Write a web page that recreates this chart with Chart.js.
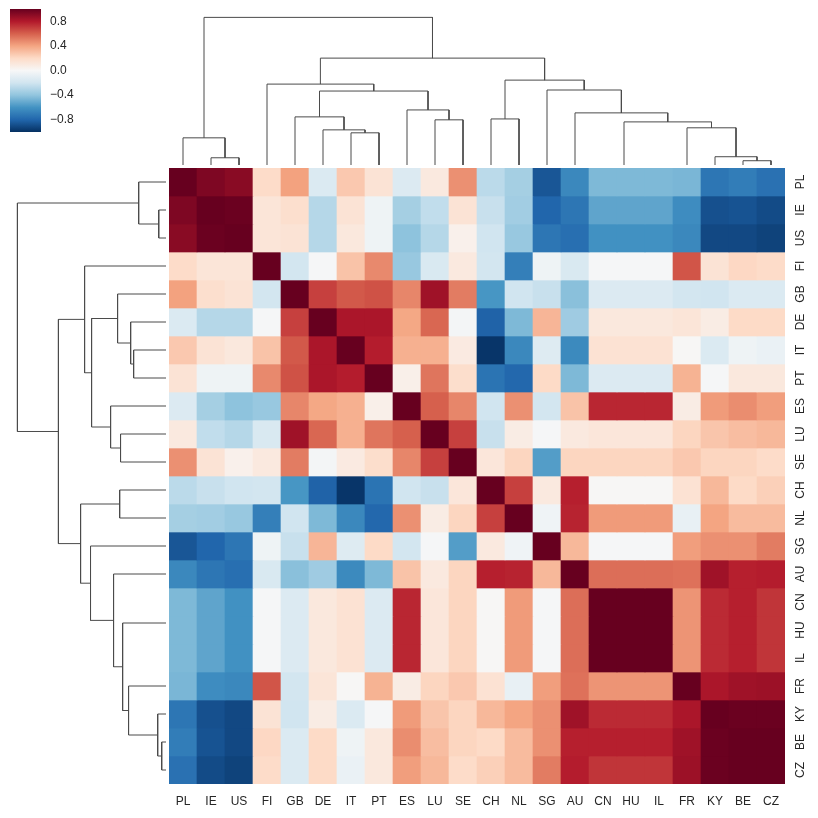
<!DOCTYPE html>
<html>
<head>
<meta charset="utf-8">
<script src="https://cdn.jsdelivr.net/npm/chart.js@4/dist/chart.umd.min.js"></script>
<style>
  html, body { margin: 0; padding: 0; background: #fff; }
  #wrap { position: relative; width: 818px; height: 818px; }
  canvas { position: absolute; }
</style>
</head>
<body>
<div id="wrap">
  <canvas id="cbar" width="70" height="123" style="left:10px;top:9px"></canvas>
  <canvas id="topTree" width="616" height="155" style="left:169px;top:10px"></canvas>
  <canvas id="leftTree" width="156" height="616" style="left:10px;top:168px"></canvas>
  <canvas id="heat" width="649" height="650" style="left:169px;top:168px"></canvas>
</div>
<script>
// leaf order after clustering (rows and columns share it)
const countries = ['PL', 'IE', 'US', 'FI', 'GB', 'DE', 'IT', 'PT', 'ES', 'LU', 'SE', 'CH', 'NL', 'SG', 'AU', 'CN', 'HU', 'IL', 'FR', 'KY', 'BE', 'CZ'];

// correlation matrix, one row per country (same order as above)
const corr = [
  [1, .94, .91, .19, .41, -.15, .27, .14, -.14, .1, .46, -.27, -.34, -.86, -.65, -.45, -.45, -.45, -.46, -.73, -.7, -.75],
  [.94, 1, .99, .13, .17, -.29, .14, -.05, -.34, -.25, .14, -.23, -.35, -.8, -.73, -.53, -.53, -.53, -.63, -.88, -.87, -.9],
  [.91, .99, 1, .13, .14, -.29, .11, -.05, -.41, -.29, .05, -.2, -.38, -.73, -.76, -.61, -.61, -.61, -.65, -.91, -.91, -.93],
  [.19, .13, .13, 1, -.19, -.01, .29, .48, -.38, -.16, .1, -.19, -.69, -.05, -.16, -.01, -.01, -.01, .63, .14, .21, .19],
  [.41, .17, .14, -.19, 1, .69, .62, .64, .49, .85, .52, -.59, -.2, -.23, -.42, -.14, -.14, -.14, -.19, -.2, -.15, -.15],
  [-.15, -.29, -.29, -.01, .69, 1, .82, .82, .39, .58, -.02, -.81, -.45, .34, -.36, .11, .11, .11, .13, .08, .2, .2],
  [.27, .14, .11, .29, .62, .82, 1, .79, .36, .36, .09, -.98, -.65, -.13, -.64, .15, .15, .15, .01, -.15, -.05, -.07],
  [.14, -.05, -.05, .48, .64, .82, .79, 1, .06, .54, .18, -.74, -.79, .2, -.45, -.14, -.14, -.14, .35, -.01, .11, .11],
  [-.14, -.34, -.41, -.38, .49, .39, .36, .06, 1, .6, .49, -.2, .46, -.19, .29, .76, .76, .76, .08, .43, .47, .42],
  [.1, -.25, -.29, -.16, .85, .58, .36, .54, .6, 1, .69, -.23, .08, -.01, .1, .12, .12, .12, .22, .28, .31, .33],
  [.46, .14, .05, .1, .52, -.02, .09, .18, .49, .69, 1, .12, .22, -.56, .22, .22, .22, .22, .27, .22, .22, .19],
  [-.27, -.23, -.2, -.19, -.59, -.81, -.98, -.74, -.2, -.23, .12, 1, .69, .1, .78, .01, .01, .01, .15, .33, .2, .24],
  [-.34, -.35, -.38, -.69, -.2, -.45, -.65, -.79, .46, .08, .22, .69, 1, -.04, .77, .43, .43, .43, -.08, .4, .32, .32],
  [-.86, -.8, -.73, -.05, -.23, .34, -.13, .2, -.19, -.01, -.56, .1, -.04, 1, .33, -.01, -.01, -.01, .42, .46, .46, .52],
  [-.65, -.73, -.76, -.16, -.42, -.36, -.64, -.45, .29, .1, .22, .78, .77, .33, 1, .56, .56, .56, .55, .85, .78, .79],
  [-.45, -.53, -.61, -.01, -.14, .11, .15, -.14, .76, .12, .22, .01, .43, -.01, .56, 1, 1, 1, .45, .75, .78, .72],
  [-.45, -.53, -.61, -.01, -.14, .11, .15, -.14, .76, .12, .22, .01, .43, -.01, .56, 1, 1, 1, .45, .75, .78, .72],
  [-.45, -.53, -.61, -.01, -.14, .11, .15, -.14, .76, .12, .22, .01, .43, -.01, .56, 1, 1, 1, .45, .75, .78, .72],
  [-.46, -.63, -.65, .63, -.19, .13, .01, .35, .08, .22, .27, .15, -.08, .42, .55, .45, .45, .45, 1, .82, .85, .86],
  [-.73, -.88, -.91, .14, -.2, .08, -.15, -.01, .43, .28, .22, .33, .4, .46, .85, .75, .75, .75, .82, 1, .99, .99],
  [-.7, -.87, -.91, .21, -.15, .2, -.05, .11, .47, .31, .22, .2, .32, .46, .78, .78, .78, .78, .85, .99, 1, 1],
  [-.75, -.9, -.93, .19, -.15, .2, -.07, .11, .42, .33, .19, .24, .32, .52, .79, .72, .72, .72, .86, .99, 1, 1]
];

// linkage: [left, right, height]; ids 0-21 are leaves, 22+ are merged clusters in order
const merges = [
  [16, 17, 0], [15, 22, 0], [20, 21, .029], [1, 2, .049], [19, 24, .056],
  [0, 25, .184], [6, 7, .218], [5, 28, .238], [18, 26, .252], [23, 30, .292],
  [9, 10, .306], [11, 12, .312], [4, 29, .326], [14, 31, .353], [8, 32, .373],
  [34, 36, .501], [13, 35, .508], [3, 37, .548], [33, 38, .575], [39, 40, .724],
  [27, 41, 1.0]
];

const cbarTicks = [-0.8, -0.4, 0, 0.4, 0.8];
const rdbu = ['#053061', '#2166ac', '#4393c3', '#92c5de', '#d1e5f0', '#f7f7f7', '#fddbc7', '#f4a582', '#d6604d', '#b2182b', '#67001f'];

const $ = id => document.getElementById(id);
const font = { family: "'Liberation Sans', Arial, sans-serif", size: 12 };
const textColor = '#262626';
const lineColor = '#4b4b4b';
const noGrid = { display: false, drawTicks: false };
const hex = h => [1, 3, 5].map(i => parseInt(h.substr(i, 2), 16));

function cmap(v) {
  const t = (Math.max(-1, Math.min(1, v)) + 1) / 2 * 10;
  const i = Math.min(9, Math.floor(t)), f = t - i;
  const a = hex(rdbu[i]), b = hex(rdbu[i + 1]);
  return `rgb(${a.map((c, k) => Math.round(c + (b[k] - c) * f)).join(',')})`;
}

// U-shaped links of the dendrogram, in leaf-slot units (leaf i centred at i + 0.5)
function treeLinks() {
  const pos = countries.map((_, i) => i + 0.5), ht = countries.map(() => 0);
  const links = [];
  merges.forEach(([a, b, h]) => {
    if (h > 0) links.push([[pos[a], ht[a]], [pos[a], h], [pos[b], h], [pos[b], ht[b]]]);
    pos.push((pos[a] + pos[b]) / 2);
    ht.push(h);
  });
  return links;
}
const hMax = Math.max(...merges.map(m => m[2])) * 1.05;
const base = { responsive: false, animation: false, events: [], plugins: { legend: { display: false }, tooltip: { enabled: false } } };

// heatmap: one floating bar per cell, one dataset per row
new Chart($('heat'), {
  type: 'bar',
  data: {
    labels: countries,
    datasets: corr.map((row, i) => ({
      data: row.map(() => [i, i + 1]),
      backgroundColor: row.map(cmap),
      grouped: false, barPercentage: 1, categoryPercentage: 1, borderWidth: 0
    }))
  },
  options: {
    ...base,
    scales: {
      x: {
        grid: noGrid, border: { display: false },
        ticks: { font, color: textColor, padding: 10, autoSkip: false, maxRotation: 0 },
        afterFit: s => { s.height = 34; s.paddingLeft = s.paddingRight = 0; }
      },
      y: {
        position: 'right', min: 0, max: countries.length, reverse: true,
        grid: noGrid, border: { display: false },
        afterBuildTicks: s => { s.ticks = countries.map((_, i) => ({ value: i + 0.5 })); },
        ticks: {
          font, color: textColor, padding: 7, autoSkip: false, minRotation: 90, maxRotation: 90, crossAlign: 'center',
          callback: v => countries[Math.floor(v)]
        },
        afterFit: s => { s.width = 33; s.paddingTop = s.paddingBottom = 0; }
      }
    }
  }
});

const treeSets = swap => treeLinks().map(pts => ({
  data: pts.map(([p, h]) => swap ? { x: h, y: p } : { x: p, y: h }),
  showLine: true, pointRadius: 0, borderColor: lineColor, borderWidth: 1, tension: 0
}));

new Chart($('topTree'), {
  type: 'scatter',
  data: { datasets: treeSets(false) },
  options: {
    ...base,
    scales: {
      x: { display: false, min: 0, max: countries.length },
      y: { display: false, min: 0, max: hMax }
    }
  }
});

new Chart($('leftTree'), {
  type: 'scatter',
  data: { datasets: treeSets(true) },
  options: {
    ...base,
    scales: {
      x: { display: false, min: 0, max: hMax, reverse: true },
      y: { display: false, min: 0, max: countries.length, reverse: true }
    }
  }
});

// colour bar
new Chart($('cbar'), {
  type: 'bar',
  data: {
    labels: [''],
    datasets: [{
      data: [[-1, 1]], barPercentage: 1, categoryPercentage: 1, borderWidth: 0,
      backgroundColor: c => {
        const { chartArea, ctx } = c.chart;
        if (!chartArea) return null;
        const g = ctx.createLinearGradient(0, chartArea.bottom, 0, chartArea.top);
        rdbu.forEach((col, i) => g.addColorStop(i / 10, col));
        return g;
      }
    }]
  },
  options: {
    ...base,
    scales: {
      x: { display: false },
      y: {
        position: 'right', min: -1, max: 1,
        grid: noGrid, border: { display: false },
        afterBuildTicks: s => { s.ticks = cbarTicks.map(v => ({ value: v })); },
        ticks: { font, color: textColor, padding: 9, callback: v => v.toFixed(1).replace('-', '\u2212') },
        afterFit: s => { s.width = 39; s.paddingTop = s.paddingBottom = 0; }
      }
    }
  }
});
</script>
</body>
</html>
